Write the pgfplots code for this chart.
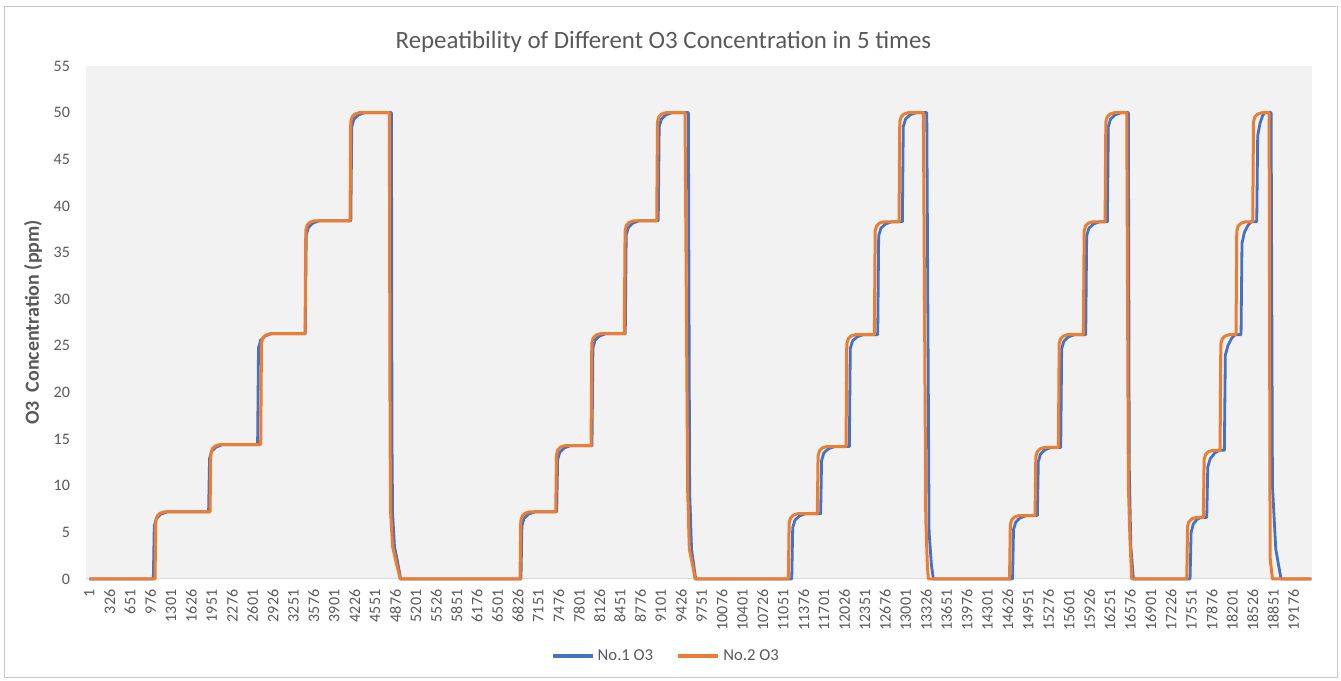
\documentclass[border=0pt]{standalone}
\usepackage{fontspec}
\setmainfont{Carlito}
\usepackage{pgfplots}
\pgfplotsset{compat=1.18}
\definecolor{sblue}{HTML}{4472C4}
\definecolor{sorange}{HTML}{ED7D31}
\definecolor{txt}{HTML}{595959}
\definecolor{plotbg}{HTML}{F2F2F2}
\definecolor{axln}{HTML}{D9D9D9}
\definecolor{frame}{HTML}{C8C8C8}
\begin{document}
\begin{tikzpicture}
\path[use as bounding box] (0,0) rectangle (1005.75pt,510.75pt);
\draw[frame, line width=0.75pt] (3pt,2.5pt) rectangle (1002.75pt,505.5pt);
\begin{axis}[
  at={(64.5pt,76.5pt)}, anchor=south west,
  width=919.5pt, height=384.75pt, scale only axis,
  clip=false,
  xmin=-52, xmax=19470, ymin=0, ymax=55,
  axis background/.style={fill=plotbg},
  axis x line=bottom, axis y line=left,
  axis line style={-},
  x axis line style={axln, line width=0.75pt},
  y axis line style={draw=none},
  major tick length=0pt,
  ytick={0,5,10,15,20,25,30,35,40,45,50,55},
  xtick={1,326,651,976,1301,1626,1951,2276,2601,2926,3251,3576,3901,4226,4551,4876,5201,5526,5851,6176,6501,6826,7151,7476,7801,8126,8451,8776,9101,9426,9751,10076,10401,10726,11051,11376,11701,12026,12351,12676,13001,13326,13651,13976,14301,14626,14951,15276,15601,15926,16251,16576,16901,17226,17551,17876,18201,18526,18851,19176},
  scaled x ticks=false,
  x tick label style={yshift=-4.5pt, rotate=90, anchor=east, font=\fontsize{12}{13}\selectfont, text=txt,
     /pgf/number format/.cd, fixed, precision=0, 1000 sep={}, assume math mode=true},
  y tick label style={xshift=-8.5pt, font=\fontsize{12}{13}\selectfont, text=txt,
     /pgf/number format/assume math mode=true},
  every axis title shift=0pt,
  title={Repeatibility of Different O3 Concentration in 5 times},
  title style={at={(axis description cs:0.471,1.0468)}, anchor=center, font=\fontsize{18.67}{21}\selectfont, text=txt},
  ylabel={O3~ Concentration (ppm)},
  y label style={at={(axis description cs:-0.0432,0.5)}, anchor=center, font=\fontsize{15}{17}\selectfont\bfseries, text=txt},
  legend columns=2,
  legend style={at={(axis description cs:0.4735,-0.150)}, anchor=center, draw=none, fill=none,
     font=\fontsize{12.5}{14}\selectfont, text=txt, column sep=0pt,
     nodes={inner xsep=2.5pt},
     /tikz/every even column/.append style={column sep=15pt}},
  legend image code/.code={\draw[#1, line width=2.6pt] (0pt,0pt) -- (30pt,0pt);},
]
\addplot[sblue, line width=2.1pt, line join=round] coordinates {
(1,0)
(1020,0)(1035,5.7)(1070,6.5)(1140,6.95)(1240,7.2)
(1900,7.2)(1915,12.9)(1950,13.7)(2020,14.15)(2120,14.4)
(2680,14.4)(2695,24.8)(2730,25.6)(2800,26.05)(2900,26.3)
(3440,26.3)(3455,36.9)(3490,37.7)(3560,38.15)(3660,38.4)
(4165,38.4)(4180,48.5)(4215,49.3)(4285,49.75)(4385,50)
(4812,50)(4820,15)(4830,7)(4860,3.5)(4910,1.8)(4945,0.5)(4960,0)
(6874,0)(6889,5.7)(6924,6.5)(6994,6.95)(7094,7.2)
(7443,7.2)(7458,12.8)(7493,13.6)(7563,14.05)(7663,14.3)
(8005,14.3)(8020,24.8)(8055,25.6)(8125,26.05)(8225,26.3)
(8535,26.3)(8550,36.9)(8585,37.7)(8655,38.15)(8755,38.4)
(9060,38.4)(9075,48.5)(9110,49.3)(9180,49.75)(9280,50)
(9540,50)(9560,9.4)(9590,3.2)(9635,1.0)(9657,0)
(11186,0)(11201,5.5)(11236,6.3)(11306,6.75)(11406,7.0)
(11646,7.0)(11661,12.7)(11696,13.5)(11766,13.95)(11866,14.2)
(12103,14.2)(12118,24.7)(12153,25.5)(12223,25.95)(12323,26.2)
(12555,26.2)(12570,36.8)(12605,37.6)(12675,38.05)(12775,38.3)
(12947,38.3)(12962,48.5)(12997,49.3)(13067,49.75)(13167,50)
(13336,50)(13373,5)(13410,1.5)(13441,0)
(14702,0)(14717,5.3)(14752,6.1)(14822,6.55)(14922,6.8)
(15097,6.8)(15112,12.6)(15147,13.4)(15217,13.85)(15317,14.1)
(15469,14.1)(15484,24.7)(15519,25.5)(15589,25.95)(15689,26.2)
(15867,26.2)(15882,36.8)(15917,37.6)(15987,38.05)(16087,38.3)
(16212,38.3)(16227,48.5)(16262,49.3)(16332,49.75)(16432,50)
(16546,50)(16560,12)(16585,3.5)(16626,0)
(17528,0)(17545,5.0)(17580,5.9)(17640,6.4)(17700,6.6)
(17794,6.6)(17810,12.0)(17850,12.9)(17920,13.5)(17990,13.8)
(18074,13.8)(18090,24.0)(18130,25.0)(18190,25.8)(18245,26.2)
(18340,26.2)(18355,36.0)(18395,37.2)(18450,37.9)(18500,38.3)
(18590,38.3)(18605,47.5)(18640,48.8)(18680,49.6)(18710,50)
(18819,50)(18840,10)(18893,3.2)(18977,0)
(19460,0)
};
\addlegendentry{No.1 O3}
\addplot[sorange, line width=2.25pt, line join=round] coordinates {
(1,0)
(1047,0)(1059,6.2)(1082,6.75)(1127,7.05)(1197,7.2)
(1923,7.2)(1935,13.4)(1958,13.95)(2003,14.25)(2073,14.4)
(2730,14.4)(2742,25.3)(2765,25.85)(2810,26.15)(2880,26.3)
(3436,26.3)(3448,37.4)(3471,37.95)(3516,38.25)(3586,38.4)
(4152,38.4)(4164,49)(4187,49.55)(4232,49.85)(4302,50)
(4778,50)(4790,15)(4800,7)(4830,3.5)(4880,2)(4930,0.6)(4950,0)
(6859,0)(6871,6.2)(6894,6.75)(6939,7.05)(7009,7.2)
(7428,7.2)(7440,13.3)(7463,13.85)(7508,14.15)(7578,14.3)
(7990,14.3)(8002,25.3)(8025,25.85)(8070,26.15)(8140,26.3)
(8520,26.3)(8532,37.4)(8555,37.95)(8600,38.25)(8670,38.4)
(9036,38.4)(9048,49)(9071,49.55)(9116,49.85)(9186,50)
(9486,50)(9529,9.4)(9555,3.2)(9619,1.1)(9646,0)
(11132,0)(11144,6.0)(11167,6.55)(11212,6.85)(11282,7.0)
(11593,7.0)(11605,13.2)(11628,13.75)(11673,14.05)(11743,14.2)
(12050,14.2)(12062,25.2)(12085,25.75)(12130,26.05)(12200,26.2)
(12502,26.2)(12514,37.3)(12537,37.85)(12582,38.15)(12652,38.3)
(12894,38.3)(12906,49)(12929,49.55)(12974,49.85)(13044,50)
(13282,50)(13320,6.5)(13345,1.5)(13361,0)
(14654,0)(14666,5.8)(14689,6.35)(14734,6.65)(14804,6.8)
(15060,6.8)(15072,13.1)(15095,13.65)(15140,13.95)(15210,14.1)
(15432,14.1)(15444,25.2)(15467,25.75)(15512,26.05)(15582,26.2)
(15830,26.2)(15842,37.3)(15865,37.85)(15910,38.15)(15980,38.3)
(16175,38.3)(16187,49)(16210,49.55)(16255,49.85)(16325,50)
(16520,50)(16546,10)(16573,3.9)(16600,0)
(17476,0)(17488,5.6)(17511,6.15)(17556,6.45)(17626,6.6)
(17740,6.6)(17752,12.8)(17775,13.35)(17820,13.65)(17890,13.8)
(18006,13.8)(18018,25.2)(18041,25.75)(18086,26.05)(18156,26.2)
(18260,26.2)(18272,37.3)(18295,37.85)(18340,38.15)(18410,38.3)
(18526,38.3)(18538,49)(18561,49.55)(18606,49.85)(18676,50)
(18787,50)(18803,2.2)(18840,0)
(19460,0)
};
\addlegendentry{No.2 O3}
\end{axis}
\end{tikzpicture}
\end{document}
